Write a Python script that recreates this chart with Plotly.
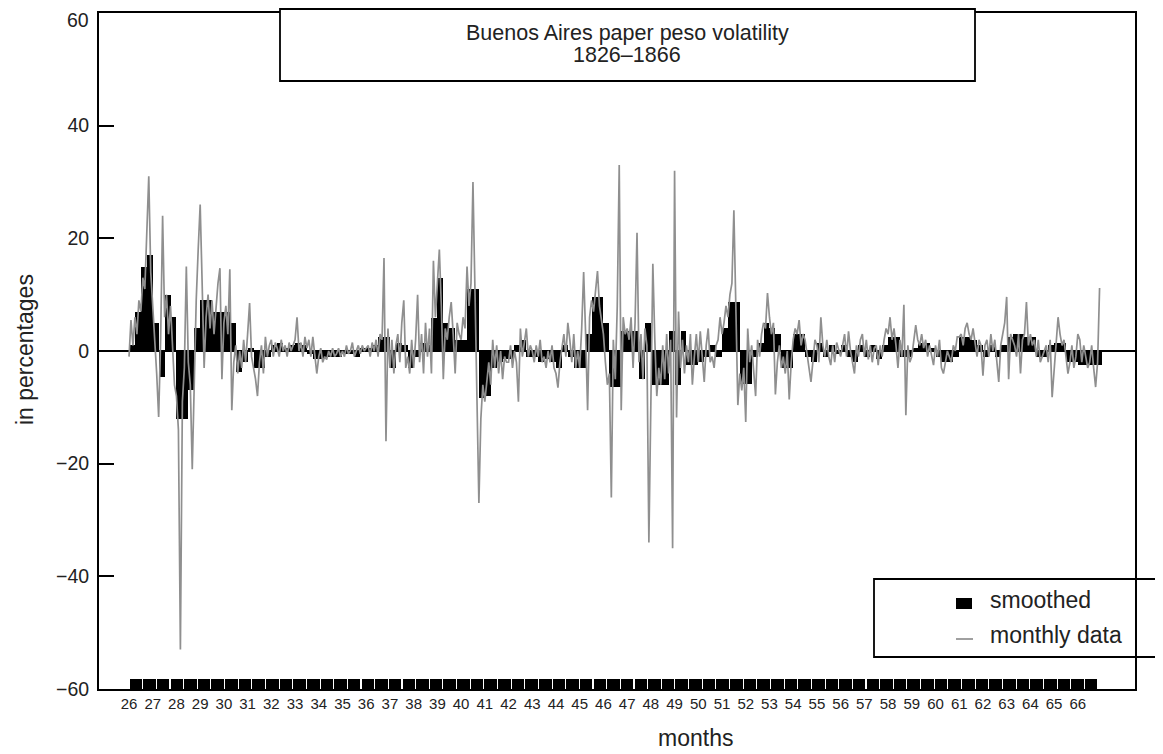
import numpy as np
import plotly.graph_objects as go

# ---------------- data ----------------
first_year = 26  # 1826
monthly_pct = [
    -1, 5.5, 1, 6, 3, 9, 7, 13, 11, 20, 31, 14,          # 1826
    8, 3, -4, -11.7, 2, 24, 6, 10, 3, 8, 2, -6,          # 1827
    -8, -14, -53, -9, -3, 15, -2, -6, -21, -4, 9, 18,    # 1828
    26, 12, -3, 6, 10, 4, 9, 3, 8, 12, 14.7, -5,         # 1829
    5, 8, 3, 14.5, -10.5, -2, 1, -4, 0, -3, 2, -2,       # 1830
    3, 8.5, -1, -3, -5, -8, -2, 1, -4, 2.5, -1, 1,       # 1831
    2, -1, 1.5, 0.5, -1, 2, 0, 1, -1, 1.5, 0, 1,         # 1832
    2, 6, 0, 1.5, -1, 2.5, 0.5, 2, -1, 2.5, -1, -4,      # 1833
    -1, 0.5, -2, -1, -1.5, 0, -1, 0.5, -1, -0.5, 0.5, -1,  # 1834
    0, -1, 1, -0.5, 0, 1.5, -1, 0, 1, -0.5, 1, 0,        # 1835
    0.5, 1, -1, 1.5, 0, 2, -1, 3, 2, 16.5, -16, 4,       # 1836
    -3, 2, -4, 1, 3, -2, 5, 9, -3, -1, -4, 2,            # 1837
    -3, 2, 10, -2, 3, -4, 5, -1, 4, -4, 16, 6,           # 1838
    12, 18, 8, -5, 4, 2, 6, 8.7, 3, -4, 5, 3,            # 1839
    2, 6, 4, 15, 8, 12, 30, 10, -8, -27, -12, -6,        # 1840
    -9, -5, -2, -6, 2, -3, 1, -4, 0, -5, -1, -2,         # 1841
    -2, 1, -3, 0, -2, -9, 4, -1, 2, 4, -1, 1,            # 1842
    0, -2, 1, -1, 2, -2, -1, -3, 0, -2, 1, -3,           # 1843
    -4, -6.5, -2, 1, 3, -1, 5, 2, -2, 3, -3, 0,          # 1844
    -3, 4, 14, 3, -10.5, 6, 9, 7, 11, 14.2, 8, 5,        # 1845
    3, -2, -6, -4, -26, 2, -5, 8, 33, -10.5, 6, 3,       # 1846
    4, 2, 6, -3, 5, 21, -2, 3, -5, 4, 1, -34,            # 1847
    -6, 15.5, 2, -8, -3, -6, 1, -5, 3, -4, 2, -35,       # 1848
    32, -11.8, 7, -3, 2, -4, 1, -2, 3, -6, -1, 3,        # 1849
    -2, 3.5, -1, -5.5, 1, 4, -2, -1, -3, 1, 2, 6,        # 1850
    3, 5, 8, 6, 10, 12, 25, 4, -9.6, -4, -7, -3,         # 1851
    -12.6, 4, -2, 1, -3, -8, 2, -1, 3, 5, 4, 10.3,       # 1852
    6, 3, 5, -7.7, -2, 1, -3, -1, -4, 0, -8.6, -2,       # 1853
    2, 4, 3, 5.5, 1, 3, 2, -1, -3, -5.5, -1, 2,          # 1854
    1, -2, 6, 1, -1, 2, -1, -2.5, 1, -2, 1.5, 0,         # 1855
    -1, 1, 3, -1, 3.5, 0, -2, -4, 1, -1, 2, 3,           # 1856
    -1, 2, -1.5, 1, -2, 0.5, 1, -2.5, 1, -1, 2, 4,       # 1857
    3, 6, 2, 4, 1, -3, 2, -1, 8.2, -11.4, 1, -2,         # 1858
    -1, 2, 4.6, 2, 1, 3, 0.5, 2, -1, 1, -0.5, -2.5,      # 1859
    1, -1, 2, -3, -4, -2, 0, -1, -2, 1, 0, 2.5,          # 1860
    2.5, 3, 1, 4, 5, 3, 2, 4, 1, -1, 2, 1,               # 1861
    -4.4, 1, 2, -1, 3, 0, 2, -2, -5.5, 1, 3, 5,          # 1862
    9.6, -5, 3, 2, 1, -1, 3, -4, 2, 3, 8.7, 1,           # 1863
    3, 1, 2, -1, 2, -2, -1, 0, 1, -2, 2, -8.2,           # 1864
    -3, 2, 6, 3, 1, 2, -1, -4, -2, 1, -3, -1,            # 1865
    3, 2, -2, 1, -1, -3, -2, 1, -3, -6.4, -2, 11.2,      # 1866
]

smoothed_pct = [  # quarterly smoothed values
    1, 7, 15, 17,       # 1826
    5, -4.6, 10, 6,     # 1827
    -12, -12, -7, 4,    # 1828
    9, 9, 7, 7,         # 1829
    7, 5, -3.7, -2,     # 1830
    0.5, -3, -3, -1,    # 1831
    1, 1.5, 0.5, 1,     # 1832
    1.5, 1, -0.5, -1.5, # 1833
    -1.5, -1, -1, -1,   # 1834
    -0.5, -0.5, -1, 0.5,  # 1835
    0.5, 1, 2.5, 2.5,   # 1836
    -3, 1.5, 1, -3,     # 1837
    -1, 1.5, 1, 5.9,    # 1838
    13, 5, 4, 2,        # 1839
    2, 11, 11, -8.4,    # 1840
    -8, -3, -2, -1.5,   # 1841
    -1.5, 1, 2, -1,     # 1842
    -1, -2, -1.5, -2,   # 1843
    -3, 1, -1, -3,      # 1844
    -3, 3, 9.6, 9.6,    # 1845
    5, -6.4, -6.4, 3.5, # 1846
    3.5, 3.5, -5, 5,    # 1847
    -6, -6, -6, 3.5,    # 1848
    -6, 3.5, -2.5, -2.5,  # 1849
    -2, -1, 1, -1,      # 1850
    4, 8.7, 8.7, -5.8,  # 1851
    -5.8, -1, 1.5, 5,   # 1852
    4, 3, -3, -3,       # 1853
    3, 3, -1, -2,       # 1854
    1.5, -1, 1, -0.5,   # 1855
    1, -1, -2, 1,       # 1856
    -1, 1, -1.5, 1,     # 1857
    2.5, 2.5, -1, -1,   # 1858
    0.5, 1.5, 1.5, 0.5, # 1859
    -1, -2, -2, -1,     # 1860
    2.5, 2.5, 2, 1,     # 1861
    -1, 1, -1, 1,       # 1862
    2.5, 3, 3, 2.5,     # 1863
    2.5, -1, -1, 1,     # 1864
    1.5, 1.5, -2, -2,   # 1865
    -2.5, -2.5, -2.5, -2.5,  # 1866
]

tick_years = list(range(26, 67))
tick_labels = [str(y) for y in tick_years]
y_ticks = [-60, -40, -20, 0, 20, 40, 60]
y_tick_labels = ["\u221260", "\u221240", "\u221220", "0", "20", "40", "60"]

# ---------------- derived positions ----------------
month_x = first_year + np.arange(len(monthly_pct)) / 12.0
quarter_x = first_year + np.arange(len(smoothed_pct)) * 0.25 + 0.125

# decorative time strip along the bottom
n_blocks = 71
strip_start, strip_end = 26.0, 66.85
bw = (strip_end - strip_start) / n_blocks
strip_x = strip_start + (np.arange(n_blocks) + 0.5) * bw

FONT = "Liberation Sans, Arial, Helvetica, sans-serif"
TXT = "#222"

fig = go.Figure()

fig.add_trace(go.Bar(
    x=quarter_x, y=smoothed_pct, width=0.25, base=0,
    marker=dict(color="black", line=dict(width=0)),
    name="smoothed", showlegend=False,
))

fig.add_trace(go.Bar(
    x=strip_x, y=[1.7] * n_blocks, base=-60, width=bw * 0.92,
    marker=dict(color="black", line=dict(width=0)),
    showlegend=False, hoverinfo="skip",
))

fig.add_trace(go.Scatter(
    x=month_x, y=monthly_pct, mode="lines",
    line=dict(color="#8f8f8f", width=1.7),
    name="monthly data", showlegend=False,
))

# the page body has an 8px margin, so the figure is 8px smaller and offset
fig.update_layout(
    width=1155, height=746,
    margin=dict(l=91, r=28, t=5, b=65, autoexpand=False),
    paper_bgcolor="white", plot_bgcolor="white",
    barmode="overlay", bargap=0,
    font=dict(family=FONT, color=TXT),
    showlegend=False,
)

fig.update_xaxes(
    range=[24.735, 68.41], automargin=False,
    tickmode="array", tickvals=tick_years, ticktext=tick_labels,
    tickfont=dict(size=15, color=TXT),
    ticks="", showgrid=False, zeroline=False,
    showline=True, linecolor="black", linewidth=2, mirror=True,
)
# the topmost label ("60") sits against the page edge, so it is placed as an
# annotation a few pixels lower instead of as an axis tick label
fig.update_yaxes(
    range=[-60, 60], automargin=False,
    tickmode="array", tickvals=y_ticks,
    ticktext=y_tick_labels[:-1] + [""],
    tickfont=dict(size=19.5, color=TXT),
    ticks="inside", ticklen=15, tickwidth=2, tickcolor="black",
    ticklabelstandoff=4, ticklabeloverflow="allow",
    showgrid=False, zeroline=True, zerolinecolor="black", zerolinewidth=2,
    showline=True, linecolor="black", linewidth=2, mirror=True,
)


# page pixel -> paper helpers (plot area spans page x 99..1135, y 13..689)
def px(xp):
    return (xp - 99) / 1036.0


def py(yp):
    return (689 - yp) / 676.0


shapes = [
    # title box
    dict(type="rect", xref="paper", yref="paper",
         x0=px(280), x1=px(975), y0=py(81), y1=py(9),
         line=dict(color="black", width=1.8), fillcolor="white", layer="above"),
    # legend box (runs off the right edge)
    dict(type="rect", xref="paper", yref="paper",
         x0=px(874), x1=px(1175), y0=py(657), y1=py(579),
         line=dict(color="black", width=1.8), fillcolor="rgba(0,0,0,0)", layer="above"),
    # legend swatches
    dict(type="rect", xref="paper", yref="paper",
         x0=px(956), x1=px(972), y0=py(609), y1=py(598),
         line=dict(width=0), fillcolor="black", layer="above"),
    dict(type="line", xref="paper", yref="paper",
         x0=px(956), x1=px(973), y0=py(639), y1=py(639),
         line=dict(color="#8f8f8f", width=1.7), layer="above"),
]
fig.update_layout(shapes=shapes)

annotations = [
    dict(text="Buenos Aires paper peso volatility", x=px(627), y=py(33),
         font=dict(size=21.5)),
    dict(text="1826\u20131866", x=px(627), y=py(55), font=dict(size=21.5)),
    dict(text="smoothed", x=px(988), y=py(600), xanchor="left", font=dict(size=23)),
    dict(text="monthly data", x=px(988), y=py(635), xanchor="left", font=dict(size=23)),
    dict(text="in percentages", x=px(25), y=py(350), textangle=-90, font=dict(size=23)),
    dict(text="months", x=px(695), y=py(738), font=dict(size=23)),
    dict(text=y_tick_labels[-1], x=px(90), y=py(20), xanchor="right",
         borderpad=0, font=dict(size=19.5)),
]
for a in annotations:
    a.update(xref="paper", yref="paper", showarrow=False)
    a.setdefault("xanchor", "center")
    a["yanchor"] = "middle"
    a["font"]["family"] = FONT
    a["font"]["color"] = TXT
fig.update_layout(annotations=annotations)

fig.write_html("out.html")
